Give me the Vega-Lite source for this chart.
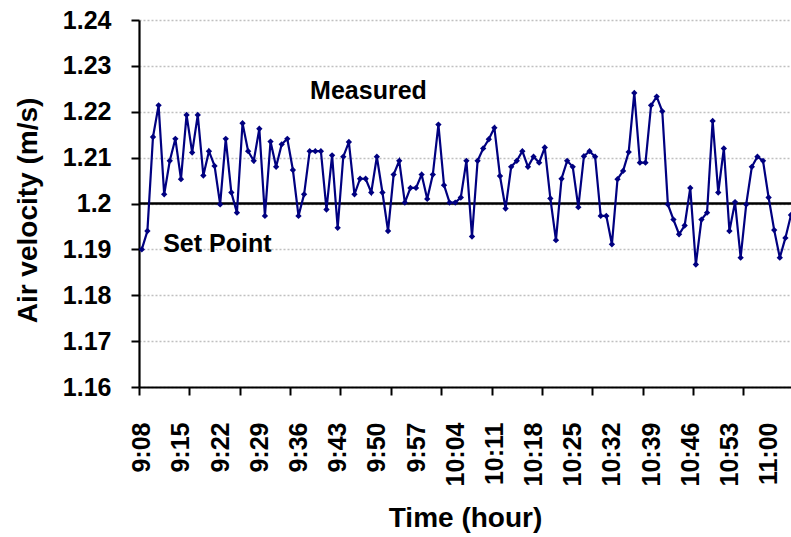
{
  "$schema": "https://vega.github.io/schema/vega-lite/v6.json",
  "width": 652,
  "height": 367,
  "autosize": {"type": "none"},
  "padding": {"left": 139, "top": 20, "right": 0, "bottom": 150},
  "background": "white",
  "config": {
    "view": {"stroke": null},
    "font": "Liberation Sans",
    "axis": {
      "domainColor": "black",
      "domainWidth": 2.2,
      "tickColor": "black",
      "tickWidth": 2,
      "tickSize": 8,
      "labelFont": "Liberation Sans",
      "labelFontWeight": "bold",
      "labelFontSize": 25,
      "labelColor": "black",
      "titleFont": "Liberation Sans",
      "titleFontWeight": "bold",
      "titleFontSize": 28,
      "titleColor": "black"
    }
  },
  "datasets": {
    "series": [
      {"m": 0, "v": 1.190}, {"m": 1, "v": 1.194}, {"m": 2, "v": 1.2145}, {"m": 3, "v": 1.2214},
      {"m": 4, "v": 1.202}, {"m": 5, "v": 1.2093}, {"m": 6, "v": 1.2141}, {"m": 7, "v": 1.2053},
      {"m": 8, "v": 1.2193}, {"m": 9, "v": 1.2111}, {"m": 10, "v": 1.2193}, {"m": 11, "v": 1.2061},
      {"m": 12, "v": 1.2114}, {"m": 13, "v": 1.2082}, {"m": 14, "v": 1.1998}, {"m": 15, "v": 1.2141},
      {"m": 16, "v": 1.2024}, {"m": 17, "v": 1.198}, {"m": 18, "v": 1.2175}, {"m": 19, "v": 1.2114},
      {"m": 20, "v": 1.2093}, {"m": 21, "v": 1.2163}, {"m": 22, "v": 1.1973}, {"m": 23, "v": 1.2135},
      {"m": 24, "v": 1.208}, {"m": 25, "v": 1.2129}, {"m": 26, "v": 1.2141}, {"m": 27, "v": 1.2073},
      {"m": 28, "v": 1.1973}, {"m": 29, "v": 1.202}, {"m": 30, "v": 1.2114}, {"m": 31, "v": 1.2114},
      {"m": 32, "v": 1.2114}, {"m": 33, "v": 1.1987}, {"m": 34, "v": 1.2105}, {"m": 35, "v": 1.1947},
      {"m": 36, "v": 1.2102}, {"m": 37, "v": 1.2134}, {"m": 38, "v": 1.202}, {"m": 39, "v": 1.2054},
      {"m": 40, "v": 1.2054}, {"m": 41, "v": 1.2024}, {"m": 42, "v": 1.2102}, {"m": 43, "v": 1.2024},
      {"m": 44, "v": 1.194}, {"m": 45, "v": 1.2063}, {"m": 46, "v": 1.2093}, {"m": 47, "v": 1.2002},
      {"m": 48, "v": 1.2034}, {"m": 49, "v": 1.2034}, {"m": 50, "v": 1.2063}, {"m": 51, "v": 1.201},
      {"m": 52, "v": 1.2063}, {"m": 53, "v": 1.2172}, {"m": 54, "v": 1.204}, {"m": 55, "v": 1.2002},
      {"m": 56, "v": 1.2002}, {"m": 57, "v": 1.2013}, {"m": 58, "v": 1.2093}, {"m": 59, "v": 1.1928},
      {"m": 60, "v": 1.2093}, {"m": 61, "v": 1.212}, {"m": 62, "v": 1.214}, {"m": 63, "v": 1.2165},
      {"m": 64, "v": 1.206}, {"m": 65, "v": 1.1989}, {"m": 66, "v": 1.208}, {"m": 67, "v": 1.2093},
      {"m": 68, "v": 1.2114}, {"m": 69, "v": 1.208}, {"m": 70, "v": 1.2102}, {"m": 71, "v": 1.2089},
      {"m": 72, "v": 1.2122}, {"m": 73, "v": 1.2011}, {"m": 74, "v": 1.192}, {"m": 75, "v": 1.2054},
      {"m": 76, "v": 1.2093}, {"m": 77, "v": 1.208}, {"m": 78, "v": 1.1992}, {"m": 79, "v": 1.2103},
      {"m": 80, "v": 1.2114}, {"m": 81, "v": 1.2102}, {"m": 82, "v": 1.1973}, {"m": 83, "v": 1.1973},
      {"m": 84, "v": 1.1911}, {"m": 85, "v": 1.2053}, {"m": 86, "v": 1.2071}, {"m": 87, "v": 1.2112},
      {"m": 88, "v": 1.2241}, {"m": 89, "v": 1.2089}, {"m": 90, "v": 1.2089}, {"m": 91, "v": 1.2214},
      {"m": 92, "v": 1.2233}, {"m": 93, "v": 1.2201}, {"m": 94, "v": 1.1998}, {"m": 95, "v": 1.1965},
      {"m": 96, "v": 1.1933}, {"m": 97, "v": 1.1952}, {"m": 98, "v": 1.2034}, {"m": 99, "v": 1.1867},
      {"m": 100, "v": 1.1965}, {"m": 101, "v": 1.198}, {"m": 102, "v": 1.218}, {"m": 103, "v": 1.2024},
      {"m": 104, "v": 1.212}, {"m": 105, "v": 1.194}, {"m": 106, "v": 1.2003}, {"m": 107, "v": 1.1882},
      {"m": 108, "v": 1.1998}, {"m": 109, "v": 1.208}, {"m": 110, "v": 1.2102}, {"m": 111, "v": 1.2093},
      {"m": 112, "v": 1.2013}, {"m": 113, "v": 1.1942}, {"m": 114, "v": 1.1882}, {"m": 115, "v": 1.1925},
      {"m": 116, "v": 1.1975}
    ],
    "notes": [
      {"m": 40.5, "v": 1.2246, "label": "Measured"},
      {"m": 13.5, "v": 1.1911, "label": "Set Point"}
    ],
    "setpoint": [{"v": 1.2}]
  },
  "encoding": {
    "x": {
      "field": "m", "type": "quantitative",
      "scale": {"domain": [-0.5, 116], "nice": false, "zero": false},
      "axis": {
        "title": "Time (hour)",
        "grid": false,
        "values": [-0.5, 0, 7, 8.5, 14, 17.5, 21, 26.5, 28, 35, 35.5, 42, 44.5, 49, 53.5, 56, 62.5, 63, 70, 71.5, 77, 80.5, 84, 89.5, 91, 98, 98.5, 105, 107.5, 112],
        "labelExpr": "datum.value % 1 == 0 ? (floor((548 + datum.value) / 60) + ':' + (((548 + datum.value) % 60) < 10 ? '0' : '') + ((548 + datum.value) % 60)) : ''",
        "tickOpacity": {"condition": {"test": "datum.value % 1 != 0", "value": 1}, "value": 0},
        "labelAngle": 270,
        "labelAlign": "right",
        "labelBaseline": "middle",
        "labelPadding": 27,
        "labelOverlap": false,
        "labelFlush": false,
        "titlePadding": 19
      }
    },
    "y": {
      "field": "v", "type": "quantitative",
      "scale": {"domain": [1.16, 1.24], "nice": false, "zero": false},
      "axis": {
        "title": "Air velocity (m/s)",
        "values": [1.16, 1.17, 1.18, 1.19, 1.2, 1.21, 1.22, 1.23, 1.24],
        "format": ".2~f",
        "grid": true,
        "gridColor": "#c0c0c0",
        "gridDash": [2, 2],
        "gridWidth": 1.5,
        "labelPadding": 20,
        "titlePadding": 20,
        "titleY": 190
      }
    }
  },
  "layer": [
    {
      "data": {"name": "setpoint"},
      "mark": {"type": "rule", "color": "black", "strokeWidth": 2.5},
      "encoding": {"x": null}
    },
    {
      "data": {"name": "series"},
      "mark": {"type": "line", "color": "#000080", "strokeWidth": 2.2, "clip": true}
    },
    {
      "data": {"name": "series"},
      "mark": {"type": "point", "shape": "diamond", "filled": true, "color": "#000080", "size": 40, "opacity": 1, "clip": true}
    },
    {
      "data": {"name": "notes"},
      "mark": {"type": "text", "font": "Liberation Sans", "fontWeight": "bold", "fontSize": 25, "color": "black", "align": "center", "baseline": "middle"},
      "encoding": {"text": {"field": "label"}}
    }
  ]
}
